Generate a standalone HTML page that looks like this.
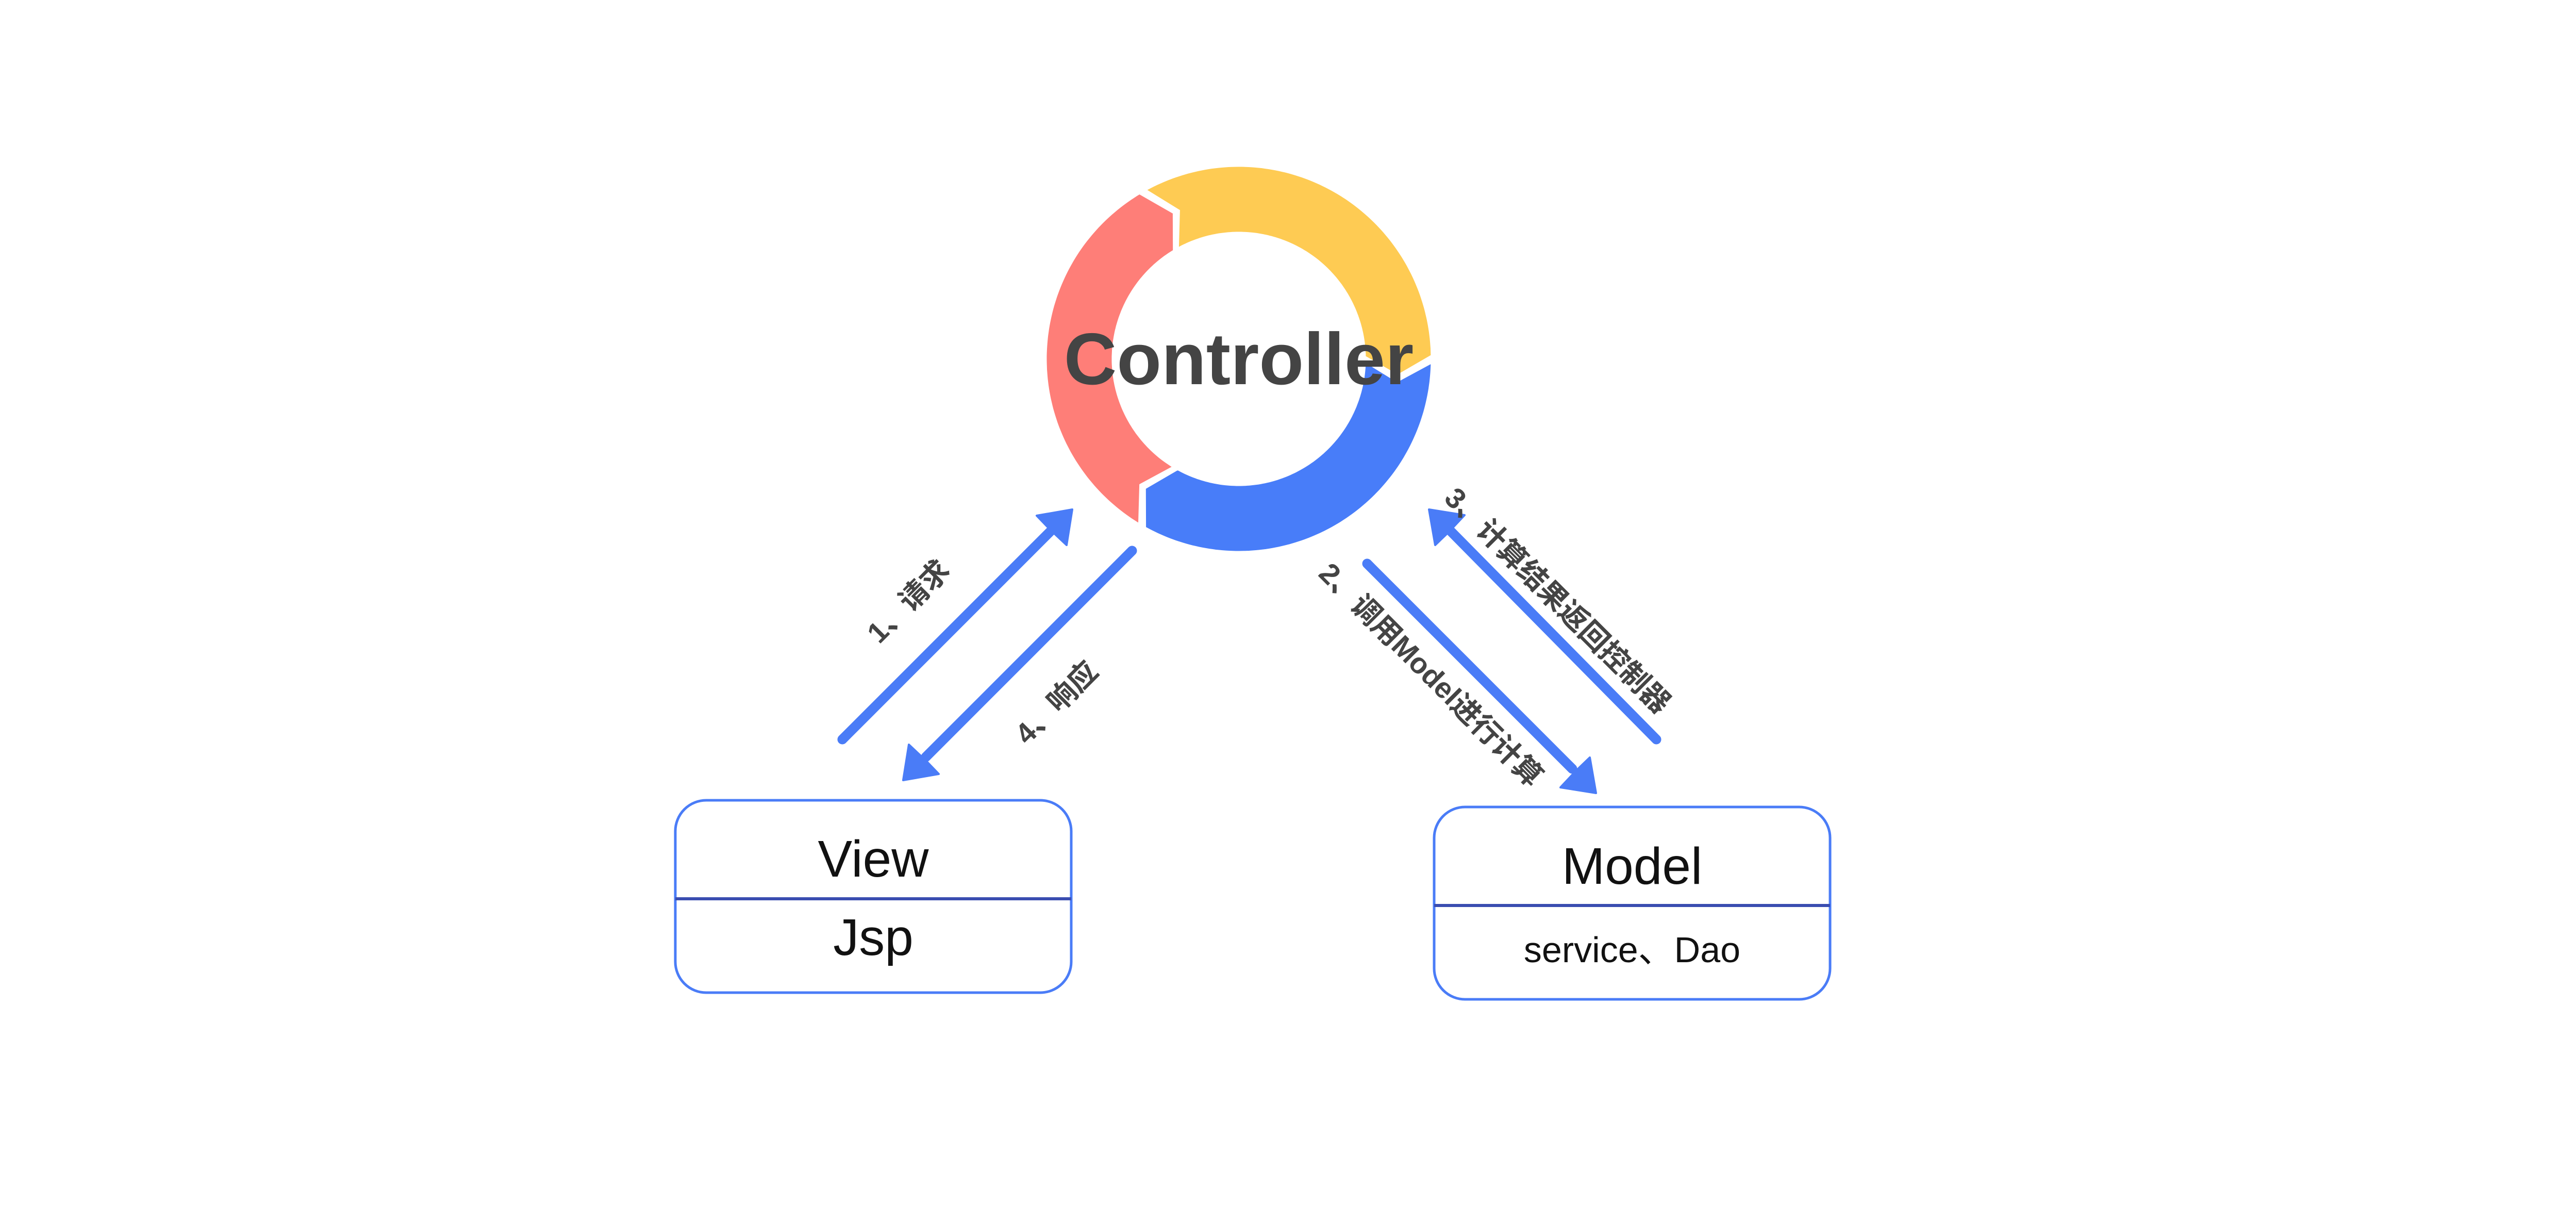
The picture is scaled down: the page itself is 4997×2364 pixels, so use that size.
<!DOCTYPE html>
<html><head><meta charset="utf-8"><style>
html,body{margin:0;padding:0;background:#fff;}
svg{display:block;}
</style></head><body>
<svg id="s" width="4997" height="2364" viewBox="0 0 4997 2364" xmlns="http://www.w3.org/2000/svg">
<rect width="4997" height="2364" fill="#fff"/>
<g id="ring"></g>
<text x="2403" y="745" text-anchor="middle" font-family="Liberation Sans, sans-serif" font-weight="bold" font-size="142" fill="#444">Controller</text>

<g stroke="#4a7cf7" stroke-width="19" fill="#4a7cf7" stroke-linecap="round">
  <line x1="1634" y1="1434" x2="2040" y2="1028"/>
  <line x1="2196" y1="1068" x2="1796" y2="1468"/>
  <line x1="2652" y1="1093" x2="3050" y2="1491"/>
  <line x1="3213" y1="1434" x2="2814" y2="1030"/>
</g>
<g fill="#4a7cf7" stroke="#4a7cf7" stroke-width="4" stroke-linejoin="round">
  <polygon points="2080,988 2069,1057 2036,1026 2011,1000"/>
  <polygon points="1752,1513 1763,1444 1796,1475 1821,1501"/>
  <polygon points="3096,1538 3027,1527 3058,1494 3084,1469"/>
  <polygon points="2772,988 2841,999 2810,1032 2784,1057"/>
</g>

<g font-family="Liberation Sans, Noto Sans CJK SC, sans-serif" font-weight="bold" font-size="56" fill="#444" text-anchor="middle">
  <text transform="translate(1776,1180) rotate(-45)">1、请求</text>
  <text transform="translate(2063,1376) rotate(-45)">4、响应</text>
  <text transform="translate(2762,1322) rotate(45)">2、调用Model进行计算</text>
  <text transform="translate(3008,1178) rotate(45)">3、计算结果返回控制器</text>
</g>

<g fill="#fff" stroke="#4a7cf7" stroke-width="5">
  <rect x="1310" y="1552" width="768" height="373" rx="60"/>
  <rect x="2782" y="1565" width="768" height="373" rx="60"/>
</g>
<g stroke="#3a4db0" stroke-width="6">
  <line x1="1310" y1="1743" x2="2078" y2="1743"/>
  <line x1="2782" y1="1756" x2="3550" y2="1756"/>
</g>
<g font-family="Liberation Sans, Noto Sans CJK SC, sans-serif" fill="#111" text-anchor="middle">
  <text x="1694" y="1700" font-size="100">View</text>
  <text x="1694" y="1852" font-size="100">Jsp</text>
  <text x="3166" y="1714" font-size="100">Model</text>
  <text x="3166" y="1866" font-size="70">service、Dao</text>
</g>
</svg>
<script>
(function(){
var cx=2403,cy=696,Ro=375,Ri=244,Rm=310,d=7;
function P(r,a){a=a*Math.PI/180;return (cx+r*Math.sin(a)).toFixed(1)+","+(cy-r*Math.cos(a)).toFixed(1);}
var segs=[[330,450,"#fecb53"],[90,210,"#487df9"],[210,330,"#fe7e78"]];
var g=document.getElementById("ring"),h="";
segs.forEach(function(s){
  var a0=s[0]+0.9,a1=s[1]-0.9,pts=[];
  pts.push(P(Ro,a0));
  for(var a=a0;a<=a1;a+=1)pts.push(P(Ro,a));
  pts.push(P(Ro,a1));pts.push(P(Rm,a1+d));pts.push(P(Ri,a1));
  for(var a=a1;a>=a0;a-=1)pts.push(P(Ri,a));
  pts.push(P(Ri,a0));pts.push(P(Rm,a0+d));
  h+='<polygon points="'+pts.join(" ")+'" fill="'+s[2]+'" stroke="#fff" stroke-width="5" stroke-linejoin="miter"/>';
});
g.innerHTML=h;
})();
</script>
</body></html>
